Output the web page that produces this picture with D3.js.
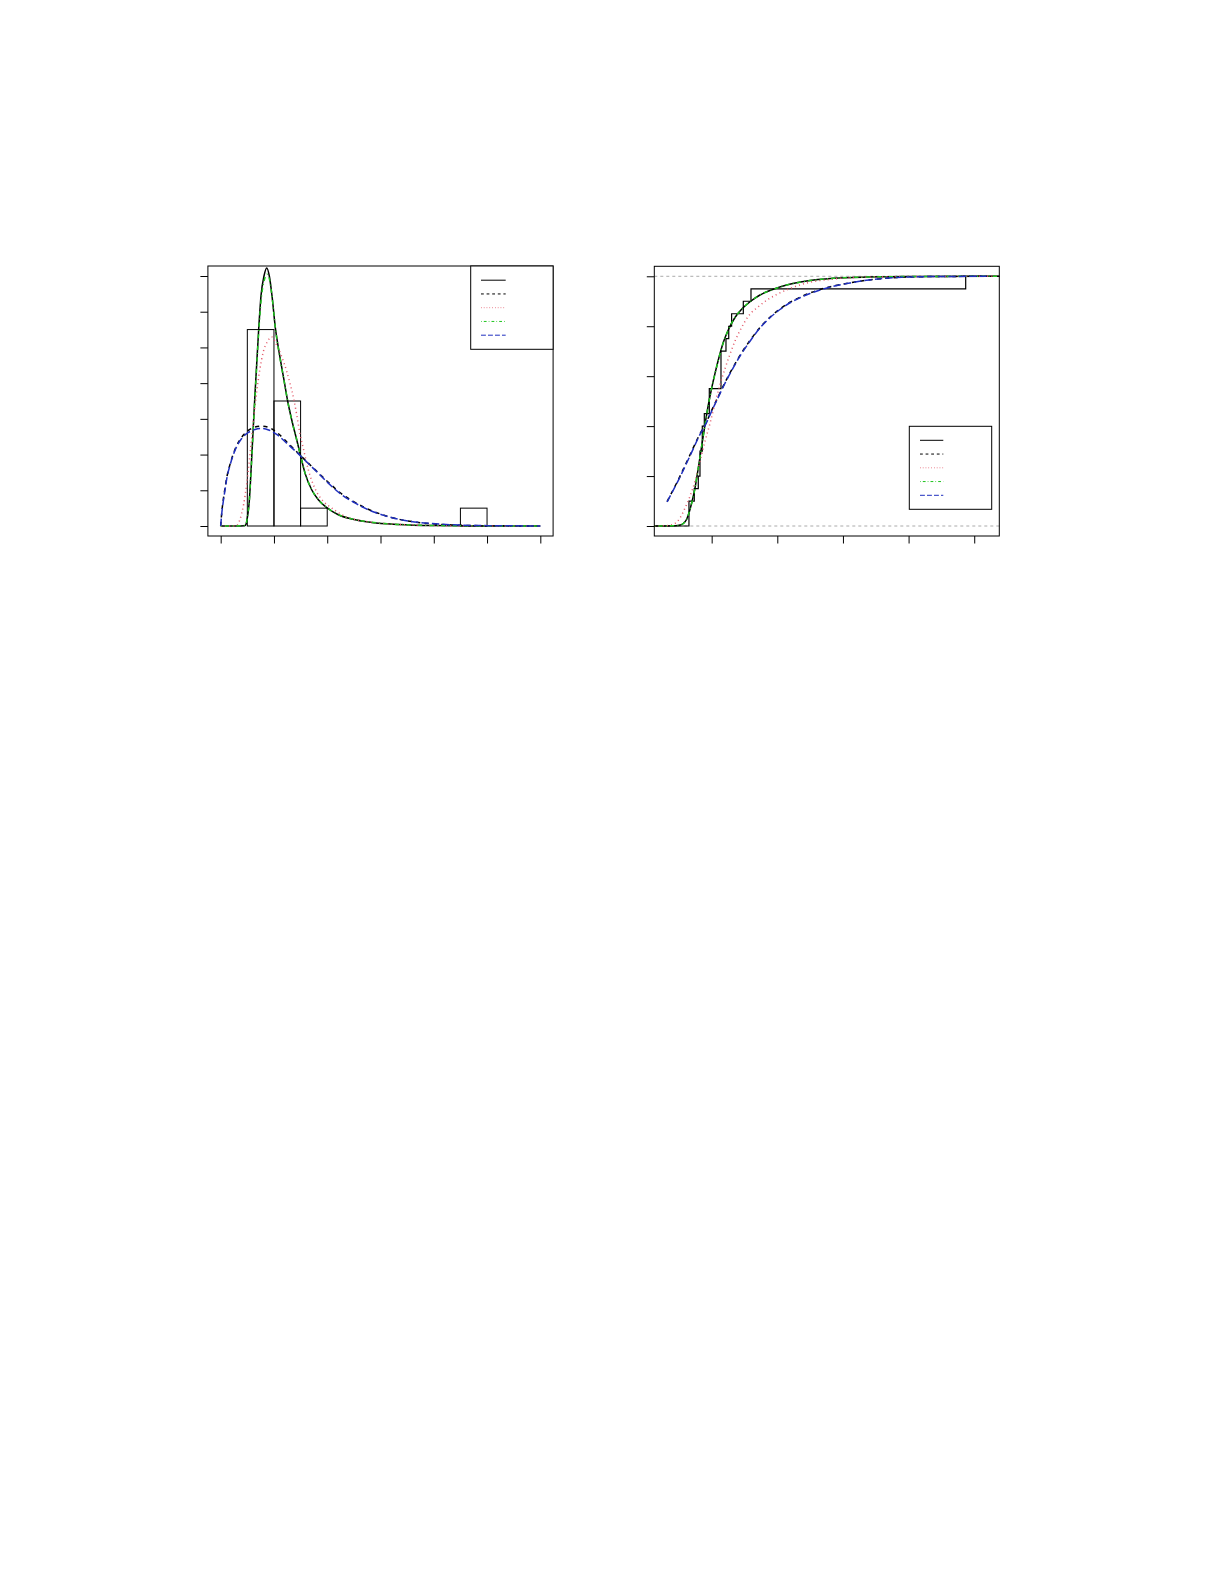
<!DOCTYPE html>
<html>
<head>
<meta charset="utf-8">
<script src="https://cdn.jsdelivr.net/npm/d3@7"></script>
<style>
  body { margin: 0; background: #fff; }
</style>
</head>
<body>
<div id="graph"></div>
<script>
// sample (read from the ECDF steps), 20 values
const obs = [0.654, 0.654, 0.735, 0.796, 0.822, 0.822, 0.857, 0.857, 0.888, 0.964,
             0.964, 1.142, 1.142, 1.142, 1.218, 1.26, 1.304, 1.482, 1.599, 4.87];
const histBreaks = [0.5, 1, 1.5, 2, 2.5, 3, 3.5, 4, 4.5, 5];

// tick values
const densXTicks = [0, 1, 2, 3, 4, 5, 6];
const densYTicks = [0, 0.2, 0.4, 0.6, 0.8, 1.0, 1.2, 1.4];
const cdfXTicks = [1, 2, 3, 4, 5];
const cdfYTicks = [0, 0.2, 0.4, 0.6, 0.8, 1.0];

// fitted densities [x, density]
const densSolid = [[0,0],[0.3,0],[0.45,0.002],[0.475,0.009],[0.5,0.045],[0.537,0.14],[0.582,0.38],[0.613,0.56],
  [0.644,0.74],[0.713,1.10],[0.757,1.29],[0.813,1.40],[0.864,1.445],[0.913,1.40],[0.963,1.29],[1.026,1.11],
  [1.082,1.0],[1.188,0.818],[1.257,0.70],[1.333,0.595],[1.427,0.483],[1.495,0.40],[1.583,0.296],[1.708,0.203],
  [1.833,0.147],[2.0,0.101],[2.208,0.063],[2.459,0.039],[2.834,0.02],[3.334,0.009],[3.96,0.003],[5,0.0005],[6,0]];
const densDashed = [[0,0],[0.02,0.075],[0.05,0.15],[0.08,0.21],[0.12,0.28],[0.175,0.345],[0.27,0.43],[0.394,0.497],
  [0.52,0.535],[0.644,0.554],[0.77,0.559],[0.9,0.552],[1.05,0.525],[1.27,0.462],[1.46,0.406],[1.645,0.352],
  [1.833,0.298],[2.02,0.245],[2.27,0.18],[2.52,0.132],[2.77,0.094],[3.08,0.059],[3.46,0.031],[3.83,0.016],
  [4.34,0.006],[5,0.0015],[6,0.0002]];
const densDotted = [[0,0],[0.25,0],[0.3,0.002],[0.36,0.035],[0.43,0.12],[0.488,0.235],[0.55,0.40],[0.613,0.583],
  [0.676,0.751],[0.738,0.882],[0.8,0.975],[0.875,1.031],[0.957,1.059],[1.051,1.013],[1.15,0.945],[1.24,0.865],
  [1.30,0.80],[1.376,0.705],[1.426,0.625],[1.489,0.515],[1.551,0.435],[1.645,0.315],[1.77,0.21],[1.927,0.138],
  [2.083,0.101],[2.333,0.054],[2.709,0.026],[3.21,0.011],[4,0.003],[5,0.0007],[6,0]];
const densDotDash = [[0,0],[0.3,0],[0.45,0.003],[0.475,0.01],[0.5,0.045],[0.537,0.14],[0.582,0.37],[0.613,0.55],
  [0.644,0.72],[0.713,1.08],[0.757,1.26],[0.813,1.37],[0.87,1.41],[0.92,1.375],[0.97,1.27],[1.03,1.10],
  [1.082,0.995],[1.188,0.815],[1.257,0.70],[1.333,0.593],[1.427,0.483],[1.495,0.40],[1.583,0.297],[1.708,0.205],
  [1.833,0.148],[2.0,0.102],[2.208,0.064],[2.459,0.04],[2.834,0.021],[3.334,0.009],[3.96,0.003],[5,0.0005],[6,0]];
const densLongDash = [[0,0],[0.02,0.07],[0.05,0.14],[0.08,0.2],[0.12,0.275],[0.175,0.34],[0.27,0.425],[0.394,0.49],
  [0.52,0.524],[0.644,0.54],[0.77,0.546],[0.9,0.538],[1.05,0.513],[1.27,0.455],[1.46,0.404],[1.645,0.35],
  [1.833,0.295],[2.02,0.24],[2.27,0.175],[2.52,0.129],[2.77,0.091],[3.08,0.058],[3.46,0.031],[3.83,0.017],
  [4.34,0.007],[5,0.002],[6,0.0003]];

// fitted CDFs [x, F]
const cdfSolid = [[0.126,0],[0.45,0.001],[0.52,0.004],[0.568,0.01],[0.619,0.027],[0.654,0.052],[0.695,0.092],
  [0.746,0.152],[0.796,0.232],[0.847,0.319],[0.898,0.405],[0.949,0.485],[1.0,0.552],[1.05,0.61],[1.101,0.665],
  [1.177,0.735],[1.253,0.785],[1.355,0.835],[1.456,0.868],[1.584,0.898],[1.736,0.925],[1.939,0.948],[2.142,0.965],
  [2.447,0.981],[2.853,0.992],[3.36,0.997],[4.0,0.999],[5.382,1.0]];
const cdfDashed = [[0.321,0.098],[0.5,0.19],[0.7,0.302],[0.8,0.358],[0.923,0.418],[1.0,0.463],[1.1,0.518],
  [1.2,0.573],[1.3,0.623],[1.431,0.683],[1.584,0.743],[1.736,0.795],[1.888,0.836],[2.04,0.869],[2.193,0.896],
  [2.345,0.916],[2.497,0.933],[2.65,0.947],[2.853,0.961],[3.107,0.974],[3.36,0.984],[3.614,0.991],[3.9,0.996],
  [4.4,0.999],[5.187,1.0]];
const cdfDotted = [[0.126,0],[0.3,0.001],[0.365,0.003],[0.441,0.01],[0.517,0.032],[0.594,0.072],[0.67,0.119],
  [0.746,0.179],[0.822,0.259],[0.898,0.339],[0.974,0.41],[1.05,0.49],[1.126,0.565],[1.203,0.63],[1.279,0.688],
  [1.355,0.74],[1.456,0.795],[1.558,0.84],[1.71,0.878],[1.862,0.908],[1.99,0.927],[2.193,0.951],[2.447,0.973],
  [2.853,0.989],[3.36,0.997],[4,0.999],[5.382,1.0]];
const cdfDotDash = [[0.126,0],[0.45,0.001],[0.52,0.004],[0.568,0.01],[0.619,0.027],[0.654,0.052],[0.695,0.091],
  [0.746,0.151],[0.796,0.231],[0.847,0.318],[0.898,0.404],[0.949,0.484],[1.0,0.551],[1.05,0.609],[1.101,0.664],
  [1.177,0.734],[1.253,0.785],[1.355,0.835],[1.456,0.868],[1.584,0.898],[1.736,0.925],[1.939,0.948],[2.142,0.965],
  [2.447,0.981],[2.853,0.992],[3.36,0.997],[4.0,0.999],[5.382,1.0]];
const cdfLongDash = [[0.321,0.097],[0.5,0.187],[0.7,0.298],[0.8,0.355],[0.923,0.415],[1.0,0.46],[1.1,0.515],
  [1.2,0.57],[1.3,0.62],[1.431,0.68],[1.584,0.74],[1.736,0.793],[1.888,0.834],[2.04,0.867],[2.193,0.894],
  [2.345,0.914],[2.497,0.931],[2.65,0.945],[2.853,0.96],[3.107,0.973],[3.36,0.984],[3.614,0.991],[3.9,0.996],
  [4.4,0.999],[5.187,1.0]];

const densCurves = [densSolid, densDashed, densDotted, densDotDash, densLongDash];
const cdfCurves = [cdfSolid, cdfDashed, cdfDotted, cdfDotDash, cdfLongDash];

// line styles (R: solid, dashed, dotted, dotdash, longdash)
const lineStyles = [
  { color: "#000000", dash: null },
  { color: "#000000", dash: [4, 4] },
  { color: "#e35a6a", dash: [1, 3] },
  { color: "#1fc41f", dash: [1, 3, 4, 3] },
  { color: "#1f2fbf", dash: [7, 3] }
];
const dashStr = (dash, k) => dash ? dash.map(v => v * k).join(",") : null;

const width = 1225, height = 1585;
const svg = d3.select("#graph").append("svg")
  .attr("width", width)
  .attr("height", height);

function panel(opt) {
  const g = svg.append("g");
  const x = d3.scaleLinear().domain(opt.xDomain).range([opt.left, opt.right]);
  const y = d3.scaleLinear().domain(opt.yDomain).range([opt.bottom, opt.top]);

  // axes (ticks only, the box gives the axis line)
  g.append("g")
    .attr("transform", `translate(0,${opt.bottom})`)
    .call(d3.axisBottom(x).tickValues(opt.xTicks).tickSize(7.5).tickFormat(""))
    .call(a => a.select(".domain").remove())
    .selectAll("line").attr("stroke", "#000");
  g.append("g")
    .attr("transform", `translate(${opt.left},0)`)
    .call(d3.axisLeft(y).tickValues(opt.yTicks).tickSize(7.5).tickFormat(""))
    .call(a => a.select(".domain").remove())
    .selectAll("line").attr("stroke", "#000");

  return { g, x, y };
}

function drawLegend(g, box, lx0, lx1, ly0, dy) {
  g.append("rect")
    .attr("x", box[0]).attr("y", box[1])
    .attr("width", box[2] - box[0]).attr("height", box[3] - box[1])
    .attr("fill", "#fff").attr("stroke", "#000").attr("stroke-width", 1);
  g.selectAll(null)
    .data(lineStyles)
    .enter()
    .append("line")
    .attr("x1", lx0).attr("x2", lx1)
    .attr("y1", (d, i) => ly0 + i * dy)
    .attr("y2", (d, i) => ly0 + i * dy)
    .attr("stroke", d => d.color)
    .attr("stroke-width", 1)
    .attr("stroke-dasharray", d => dashStr(d.dash, 0.7));
}

// ---------------- left: histogram + densities ----------------
const L = panel({
  left: 207.9, right: 553.1, top: 266, bottom: 536,
  xDomain: [-0.24, 6.24], yDomain: [-0.056, 1.456],
  xTicks: densXTicks, yTicks: densYTicks
});

const bins = d3.bin()
  .domain([histBreaks[0], histBreaks[histBreaks.length - 1]])
  .thresholds(histBreaks)(obs);

L.g.selectAll(".bar")
  .data(bins)
  .enter()
  .append("rect")
  .attr("class", "bar")
  .attr("x", d => L.x(d.x0))
  .attr("width", d => L.x(d.x1) - L.x(d.x0))
  .attr("y", d => L.y(d.length / (obs.length * (d.x1 - d.x0))))
  .attr("height", d => L.y(0) - L.y(d.length / (obs.length * (d.x1 - d.x0))))
  .attr("fill", "none")
  .attr("stroke", "#000")
  .attr("stroke-width", 1);

const densLine = d3.line()
  .x(d => L.x(d[0]))
  .y(d => L.y(d[1]))
  .curve(d3.curveMonotoneX);

L.g.selectAll(".dens")
  .data(densCurves)
  .enter()
  .append("path")
  .attr("class", "dens")
  .attr("d", densLine)
  .attr("fill", "none")
  .attr("stroke", (d, i) => lineStyles[i].color)
  .attr("stroke-width", 1.5)
  .attr("stroke-dasharray", (d, i) => dashStr(lineStyles[i].dash, 1.05));

L.g.append("rect")
  .attr("x", 207.9).attr("y", 266)
  .attr("width", 553.1 - 207.9).attr("height", 536 - 266)
  .attr("fill", "none").attr("stroke", "#000").attr("stroke-width", 1);

drawLegend(L.g, [470.7, 266, 553.1, 349.3], 481, 505.7, 280.2, 13.75);

// ---------------- right: ECDF + fitted CDFs ----------------
const R = panel({
  left: 654.3, right: 999.3, top: 266.3, bottom: 536,
  xDomain: [0.126, 5.382], yDomain: [-0.04, 1.04],
  xTicks: cdfXTicks, yTicks: cdfYTicks
});

// reference lines at 0 and 1
R.g.selectAll(".ref")
  .data([0, 1])
  .enter()
  .append("line")
  .attr("x1", R.x(0.126)).attr("x2", R.x(5.382))
  .attr("y1", d => R.y(d)).attr("y2", d => R.y(d))
  .attr("stroke", "#aaaaaa")
  .attr("stroke-width", 1)
  .attr("stroke-dasharray", "3,3");

// empirical CDF from the sample
const sorted = obs.slice().sort(d3.ascending);
const uniq = Array.from(new Set(sorted));
const ecdfPts = [[0.126, 0]]
  .concat(uniq.map(u => [u, d3.bisectRight(sorted, u) / sorted.length]))
  .concat([[5.382, 1]]);

R.g.append("path")
  .datum(ecdfPts)
  .attr("d", d3.line().x(d => R.x(d[0])).y(d => R.y(d[1])).curve(d3.curveStepAfter))
  .attr("fill", "none")
  .attr("stroke", "#000")
  .attr("stroke-width", 1.2);

const cdfLine = d3.line()
  .x(d => R.x(d[0]))
  .y(d => R.y(d[1]))
  .curve(d3.curveMonotoneX);

R.g.selectAll(".cdf")
  .data(cdfCurves)
  .enter()
  .append("path")
  .attr("class", "cdf")
  .attr("d", cdfLine)
  .attr("fill", "none")
  .attr("stroke", (d, i) => lineStyles[i].color)
  .attr("stroke-width", 1.5)
  .attr("stroke-dasharray", (d, i) => dashStr(lineStyles[i].dash, 1.05));

R.g.append("rect")
  .attr("x", 654.3).attr("y", 266.3)
  .attr("width", 999.3 - 654.3).attr("height", 536 - 266.3)
  .attr("fill", "none").attr("stroke", "#000").attr("stroke-width", 1);

drawLegend(R.g, [909.3, 426.3, 991.7, 509.3], 920, 943.3, 440.3, 13.75);
</script>
</body>
</html>
